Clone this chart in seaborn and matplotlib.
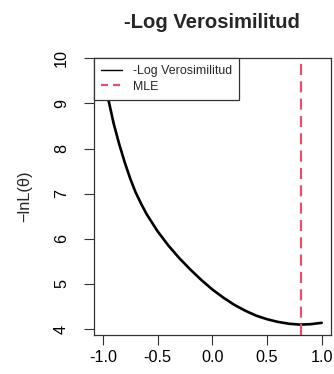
import numpy as np
import pandas as pd
import matplotlib
matplotlib.use("Agg")
import matplotlib.pyplot as plt
import seaborn as sns
from matplotlib.lines import Line2D

# ---- data ----
theta = [-1.00, -0.95, -0.90, -0.85, -0.80, -0.75, -0.70, -0.65, -0.60, -0.50,
         -0.40, -0.30, -0.20, -0.10, 0.00, 0.10, 0.20, 0.30, 0.40, 0.50,
         0.60, 0.70, 0.80, 0.90, 1.00]
neg_loglik = [9.75, 9.10, 8.55, 8.10, 7.70, 7.34, 7.03, 6.78, 6.55, 6.17,
              5.85, 5.57, 5.32, 5.09, 4.88, 4.70, 4.54, 4.41, 4.30, 4.22,
              4.16, 4.12, 4.10, 4.11, 4.14]
mle = [0.81]
x_ticks = [-1.0, -0.5, 0.0, 0.5, 1.0]
x_ticklabels = ["-1.0", "-0.5", "0.0", "0.5", "1.0"]
y_ticks = [4, 5, 6, 7, 8, 9, 10]
title = "-Log Verosimilitud"
ylabel = "\u2212lnL(\u03b8)"
legend_labels = ["-Log Verosimilitud", "MLE"]

df = pd.DataFrame({"theta": theta, "nll": neg_loglik})

sns.set_theme(style="white")
plt.rcParams["font.family"] = ["Liberation Sans", "DejaVu Sans"]

W, H = 334, 374
fig = plt.figure(figsize=(W / 100, H / 100), dpi=100)
ax = fig.add_axes([94 / W, 1 - 335 / H, (330.5 - 94) / W, (335 - 58.3) / H])

red = "#DF536B"
sns.lineplot(data=df, x="theta", y="nll", ax=ax, color="black", lw=1.9,
             sort=True, estimator=None)
ax.axvline(mle[0], color=red, lw=1.6, linestyle=(0, (5, 2.8)))

ax.set_xlim(-1.08, 1.08)
ax.set_ylim(3.87, 10.0)
ax.set_xticks(x_ticks)
ax.set_xticklabels(x_ticklabels)
ax.set_yticks(y_ticks)
ax.set_yticklabels([str(v) for v in y_ticks], rotation=90, va="center")
ax.tick_params(axis="both", direction="out", length=7, width=0.8,
               color="#333333", labelsize=11.7, labelcolor="black",
               left=True, bottom=True)
ax.tick_params(axis="x", pad=4)
ax.tick_params(axis="y", pad=11)
for s in ax.spines.values():
    s.set_visible(True)
    s.set_color("#333333")
    s.set_linewidth(0.9)

ax.set_xlabel("")
ax.set_ylabel(ylabel, fontsize=11.7, labelpad=16)
ax.set_title(title, fontsize=14.6, fontweight="bold", pad=22)

handles = [Line2D([], [], color="black", lw=1.0),
           Line2D([], [], color=red, lw=1.6, linestyle=(0, (3.2, 2.2)))]
leg = ax.legend(handles, legend_labels, loc="upper left",
                bbox_to_anchor=(0, 1), borderaxespad=0, fancybox=False,
                framealpha=1, edgecolor="#333333", fontsize=8.9,
                handlelength=1.75, handletextpad=0.85, labelspacing=0.3,
                borderpad=0.55)
leg.get_frame().set_linewidth(0.9)

fig.savefig("out.png", dpi=100)
